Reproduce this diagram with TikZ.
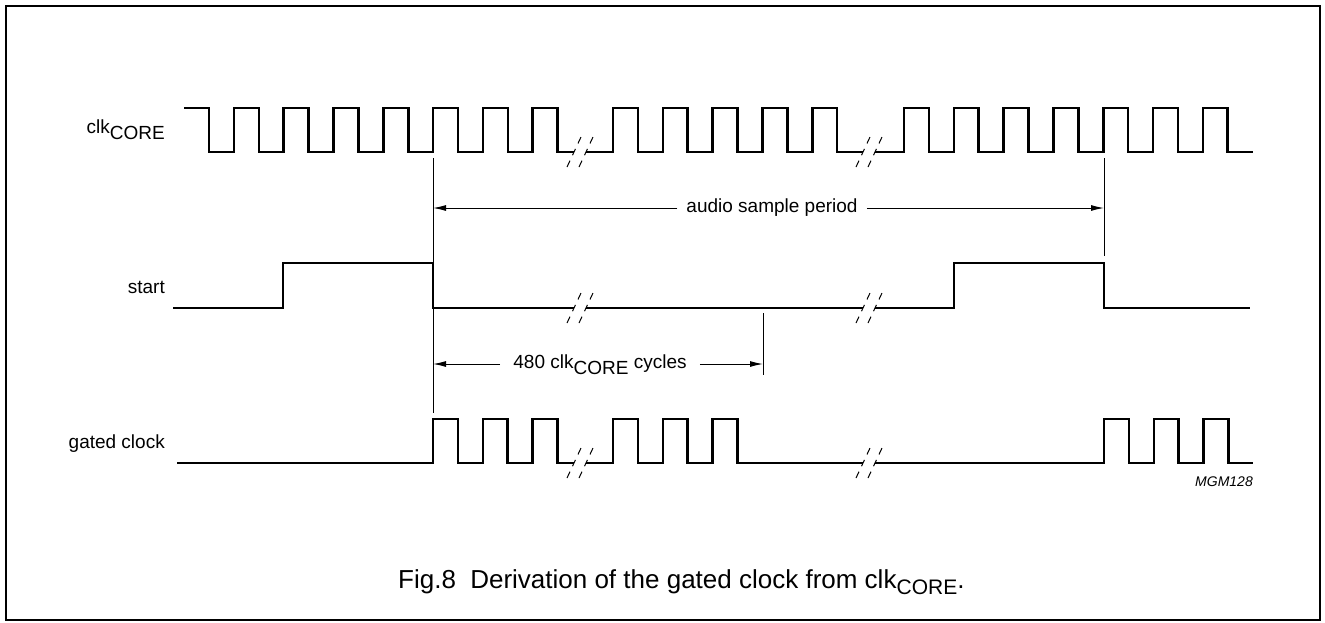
\documentclass[tikz,border=0pt]{standalone}
\usepackage{fontspec}
\setmainfont{Liberation Sans}
\usetikzlibrary{arrows.meta}
\newcommand\lowsub[2][6pt]{\raisebox{-#1}[0pt][0pt]{#2}}
\begin{document}
\begin{tikzpicture}[x=1pt,y=-1pt,
 wave/.style={line width=2.6pt, line join=miter, line cap=butt},
 marker/.style={line width=1pt},
 arr/.style={line width=1pt, -{Latex[length=13pt,width=6pt]}},
 brk/.style={line width=1pt, dash pattern=on 7pt off 6pt},
 lbl/.style={font=\fontsize{19}{22}\selectfont, inner sep=0pt, anchor=base east},
 txt/.style={font=\fontsize{19}{22}\selectfont, inner ysep=0pt},
]
\useasboundingbox (0,0) rectangle (1325,622);
\draw[line width=1.2pt] (6,6) rectangle (1320,620);

% labels
\node[lbl] (lclk) at (165,133) {clk\lowsub{CORE}};
\node[lbl] (lstart) at (165,293) {start};
\node[lbl] (lgated) at (165,448) {gated clock};

% clock
\draw[wave] (184,108) -- (209,108) \foreach \k in {1,...,7}{ -- ++(0,44) -- ++(24.9,0) -- ++(0,-44) -- ++(24.9,0) } -- ++(0,44) -- (574,152);
\draw[wave] (586,152) -- (613,152) \foreach \k in {1,...,5}{ -- ++(0,-44) -- ++(24.9,0) -- ++(0,44) -- ++(24.9,0) } -- (863,152);
\draw[wave] (875,152) -- (904,152) \foreach \k in {1,...,7}{ -- ++(0,-44) -- ++(24.9,0) -- ++(0,44) -- ++(24.9,0) };

% start
\draw[wave] (173,308) -- (283,308) -- (283,263) -- (433,263) -- (433,308) -- (574,308);
\draw[wave] (586,308) -- (863,308);
\draw[wave] (875,308) -- (954,308) -- (954,263) -- (1104,263) -- (1104,308) -- (1250,308);

% gated clock
\draw[wave] (177,463) -- (433,463) \foreach \k in {1,...,2}{ -- ++(0,-44) -- ++(24.9,0) -- ++(0,44) -- ++(24.9,0) } -- ++(0,-44) -- ++(24.9,0) -- ++(0,44) -- (574,463);
\draw[wave] (586,463) -- (613,463) \foreach \k in {1,...,3}{ -- ++(0,-44) -- ++(24.9,0) -- ++(0,44) -- ++(24.9,0) } -- (863,463);
\draw[wave] (875,463) -- (1104,463) \foreach \k in {1,...,3}{ -- ++(0,-44) -- ++(24.9,0) -- ++(0,44) -- ++(24.9,0) };

% break marks
\foreach \y in {152,308,463}{
  \foreach \x in {574,586,863,875}{
    \draw[brk] (\x-7,\y+15) -- (\x+7,\y-15);
  }
}

% marker lines
\coordinate (mA1) at (433,158); \coordinate (mA2) at (433,413);
\coordinate (mB1) at (1104,158); \coordinate (mB2) at (1104,256);
\coordinate (mC1) at (763,313); \coordinate (mC2) at (763,375);
\draw[marker] (mA1) -- (mA2);
\draw[marker] (mB1) -- (mB2);
\draw[marker] (mC1) -- (mC2);

% audio sample period
\node[txt, inner xsep=9pt] (aud) at (772,208) {audio sample period};
\draw[arr] (aud.west) -- (aud.west -| mA1);
\draw[arr] (aud.east) -- (aud.east -| mB1);

% 480 cycles
\node[txt, inner xsep=13pt] (n480) at (600,364) {480 clk\lowsub{CORE} cycles};
\draw[arr] (n480.west) -- (n480.west -| mA1);
\draw[arr] (n480.east) -- (n480.east -| mC1);

\node[font=\fontsize{14}{16}\selectfont\itshape, anchor=base east, inner sep=0pt] (mgm) at (1253,486) {MGM128};

\node[font=\fontsize{26}{30}\selectfont, anchor=base west, inner sep=0pt] (cap) at (398,588) {Fig.8\hspace{0.55em}Derivation of the gated clock from clk\lowsub[6pt]{\fontsize{21}{24}\selectfont CORE}.};
\end{tikzpicture}
\end{document}
